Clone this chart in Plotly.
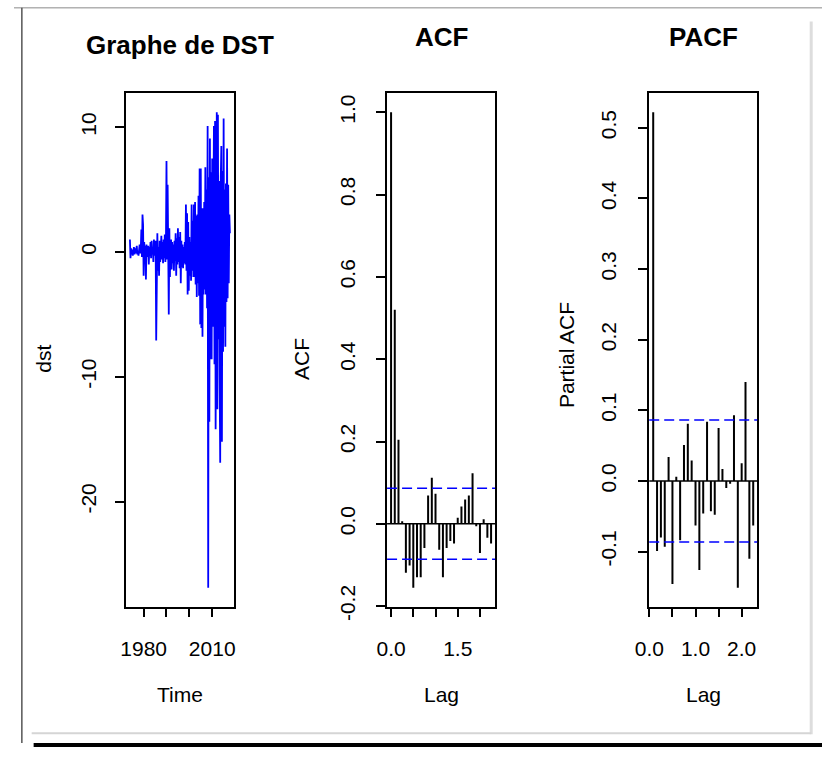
import plotly.graph_objects as go

W, H = 823, 762

# ---------------- data ----------------
start_year = 1974.0
step = 0.25  # quarterly readings of the series envelope
dst = [
    1.0, -0.5, 0.3, -0.2,     # 1974
    0.2, -0.3, 0.1, 0.4,      # 1975
    -0.2, 0.3, -0.1, 0.2,     # 1976
    0.5, -0.2, 0.1, -0.3,     # 1977
    0.3, 0.6, -0.1, 0.2,      # 1978
    1.8, -0.4, 3.0, 2.2,      # 1979
    -1.9, 0.8, -0.6, 0.5,     # 1980
    -2.2, 0.6, -0.4, 0.3,     # 1981
    0.5, -1.0, 0.4, -0.3,     # 1982
    0.8, -0.5, 0.9, -0.2,     # 1983
    0.4, -0.8, 1.0, -0.3,     # 1984
    0.6, 0.9, -7.1, -1.0,     # 1985
    1.5, -1.5, 0.4, -1.9,     # 1986
    0.9, -0.8, 0.5, 1.3,      # 1987
    -0.6, 0.8, -0.9, 1.0,     # 1988
    -0.5, 1.4, -0.8, 0.6,     # 1989
    7.3, -0.6, 5.4, 0.4,      # 1990
    -5.0, 1.9, -2.0, 0.7,     # 1991
    1.0, -1.4, 0.8, -0.9,     # 1992
    0.6, -1.5, 0.9, -0.7,     # 1993
    1.5, -1.9, 1.1, -1.0,     # 1994
    1.9, -0.8, 1.2, -1.3,     # 1995
    1.6, -2.5, 0.9, -1.2,     # 1996
    0.6, -1.3, 0.4, -0.9,     # 1997
    0.8, -1.0, 3.8, -1.5,     # 1998
    3.1, -3.4, 2.4, -3.1,     # 1999
    1.2, -1.9, 0.8, -2.3,     # 2000
    3.8, -1.5, 2.5, -2.0,     # 2001
    3.8, -2.0, 4.0, -2.6,     # 2002
    2.9, -3.6, 3.0, -2.5,     # 2003
    4.5, -3.5, 6.7, -5.8,     # 2004
    6.7, -6.1, 3.5, -6.8,     # 2005
    3.5, -3.4, 4.0, -3.0,     # 2006
    6.8, -3.4, 5.0, -4.5,     # 2007
    10.1, -26.9, 6.0, -13.6,  # 2008
    9.1, -8.6, 6.4, -8.6,     # 2009
    7.5, -6.0, 8.0, 10.1,     # 2010
    -9.0, 10.5, -14.2, 8.0,   # 2011
    11.2, -12.6, 11.0, -7.0,  # 2012
    5.7, -10.0, -16.9, 6.0,   # 2013
    8.5, -15.2, 6.5, -8.0,    # 2014
    10.7, -6.0, 5.0, -7.6,    # 2015
    5.5, -4.0, 8.3, -3.7,     # 2016
    5.4, -2.5, 3.0, 1.5,      # 2017
]

freq = 12
acf_vals = [1.0, 0.520, 0.204, 0.006, -0.119, -0.101, -0.155, -0.130, -0.130,
            -0.059, 0.069, 0.112, 0.073, -0.063, -0.130, -0.059, -0.042,
            -0.048, 0.015, 0.042, 0.059, 0.069, 0.123, -0.006, -0.071,
            0.011, -0.034, -0.048]
pacf_vals = [0.522, -0.099, -0.080, -0.093, 0.034, -0.146, 0.006, -0.084,
             0.051, 0.081, 0.029, -0.063, -0.126, -0.046, 0.084, -0.043,
             -0.048, 0.075, 0.017, -0.010, -0.004, 0.093, -0.151, 0.025,
             0.140, -0.110, -0.063]
n_obs = 516
clim = 1.96 / n_obs ** 0.5

ts_ticks = [1980, 1990, 2000, 2010]
ts_ticktext = ["1980", "", "", "2010"]
ts_yticks = [10, 0, -10, -20]
acf_xticks = [0.0, 0.5, 1.0, 1.5, 2.0]
acf_xticktext = ["0.0", "", "", "1.5", ""]
acf_yticks = [-0.2, 0.0, 0.2, 0.4, 0.6, 0.8, 1.0]
pacf_xticks = [0.0, 0.5, 1.0, 1.5, 2.0]
pacf_xticktext = ["0.0", "", "1.0", "", "2.0"]
pacf_yticks = [-0.1, 0.0, 0.1, 0.2, 0.3, 0.4, 0.5]

# ---------------- helpers ----------------
def rng(vals, extra=()):
    lo = min(list(vals) + list(extra))
    hi = max(list(vals) + list(extra))
    d = (hi - lo) * 0.04
    return [lo - d, hi + d]

def px(x):
    return x / W

def py(y):
    return 1 - y / H

t = [start_year + i * step for i in range(len(dst))]
acf_lags = [i / freq for i in range(len(acf_vals))]
pacf_lags = [(i + 1) / freq for i in range(len(pacf_vals))]

def spikes(xs, ys):
    X, Y = [], []
    for a, b in zip(xs, ys):
        X += [a, a, None]
        Y += [0, b, None]
    return X, Y

FONT = "Liberation Sans, Arial, sans-serif"
TF = dict(family=FONT, size=21, color="black")

fig = go.Figure()
fig.add_trace(go.Scatter(x=t, y=dst, mode="lines", line=dict(color="#0000ff", width=1.8),
                         xaxis="x", yaxis="y", showlegend=False, hoverinfo="skip"))
ax, ay = spikes(acf_lags, acf_vals)
fig.add_trace(go.Scatter(x=ax, y=ay, mode="lines", line=dict(color="black", width=2),
                         xaxis="x2", yaxis="y2", showlegend=False, hoverinfo="skip"))
bx, by = spikes(pacf_lags, pacf_vals)
fig.add_trace(go.Scatter(x=bx, y=by, mode="lines", line=dict(color="black", width=2),
                         xaxis="x3", yaxis="y3", showlegend=False, hoverinfo="skip"))

ydom = [py(618), py(95)]
common = dict(showgrid=False, zeroline=False, showline=True, linecolor="black",
              linewidth=1.5, mirror=True, ticks="outside", ticklen=9, tickwidth=1.5,
              tickcolor="black", tickfont=TF)

fig.update_layout(
    width=W, height=H, margin=dict(l=0, r=0, t=0, b=0),
    paper_bgcolor="white", plot_bgcolor="white",
    xaxis=dict(common, domain=[px(114), px(224)], anchor="y", range=rng(t),
               tickvals=ts_ticks, ticktext=ts_ticktext, ticklabelstandoff=13),
    yaxis=dict(common, domain=ydom, anchor="x", range=rng(dst),
               tickvals=ts_yticks, ticktext=[str(v) for v in ts_yticks],
               tickangle=-90, ticklabelstandoff=11),
    xaxis2=dict(common, domain=[px(380), px(490)], anchor="y2", range=rng(acf_lags),
                tickvals=acf_xticks, ticktext=acf_xticktext, ticklabelstandoff=13),
    yaxis2=dict(common, domain=ydom, anchor="x2", range=rng(acf_vals, [clim, -clim]),
                tickvals=acf_yticks, ticktext=["%.1f" % v for v in acf_yticks],
                tickangle=-90, ticklabelstandoff=13),
    xaxis3=dict(common, domain=[px(647), px(757)], anchor="y3", range=rng(pacf_lags),
                tickvals=pacf_xticks, ticktext=pacf_xticktext, ticklabelstandoff=13),
    yaxis3=dict(common, domain=ydom, anchor="x3", range=rng(pacf_vals, [clim, -clim]),
                tickvals=pacf_yticks, ticktext=["%.1f" % v for v in pacf_yticks],
                tickangle=-90, ticklabelstandoff=14),
)

shapes = []
for k in ("2", "3"):
    shapes.append(dict(type="line", xref="x%s domain" % k, yref="y" + k, x0=0, x1=1,
                       y0=0, y1=0, line=dict(color="black", width=1.5)))
    for c in (clim, -clim):
        shapes.append(dict(type="line", xref="x%s domain" % k, yref="y" + k, x0=0, x1=1,
                           y0=c, y1=c, line=dict(color="#0000ff", width=1.5, dash="10px,5px")))
# screenshot frame
shapes += [
    dict(type="line", xref="paper", yref="paper", x0=0, x1=1, y0=py(8), y1=py(8),
         line=dict(color="#8a8a8a", width=1)),
    dict(type="line", xref="paper", yref="paper", x0=px(8), x1=px(8), y0=py(8), y1=py(757),
         line=dict(color="#555555", width=1.5)),
    dict(type="line", xref="paper", yref="paper", x0=px(812), x1=px(812), y0=py(22), y1=py(748),
         line=dict(color="#dddddd", width=3)),
    dict(type="line", xref="paper", yref="paper", x0=px(18), x1=px(812), y0=py(747), y1=py(747),
         line=dict(color="#d5d5d5", width=2)),
    dict(type="line", xref="paper", yref="paper", x0=px(20), x1=1, y0=py(759), y1=py(759),
         line=dict(color="black", width=4)),
]
fig.update_layout(shapes=shapes)

ann = []
def text(x, y, s, size=21, bold=False, angle=0):
    ann.append(dict(x=px(x), y=py(y), xref="paper", yref="paper", text=("<b>%s</b>" % s) if bold else s,
                    showarrow=False, textangle=angle, xanchor="center", yanchor="middle",
                    font=dict(family=FONT, size=size, color="black")))

text(169, 46, "Graphe de DST", 26, True)
text(435, 38, "ACF", 26, True)
text(702, 38, "PACF", 26, True)
text(169, 708, "Time")
text(435, 708, "Lag")
text(702, 708, "Lag")
text(30, 365, "dst", angle=-90)
text(293, 366, "ACF", angle=-90)
text(563, 362, "Partial ACF", angle=-90)
fig.update_layout(annotations=ann)

fig.write_html("out.html")
